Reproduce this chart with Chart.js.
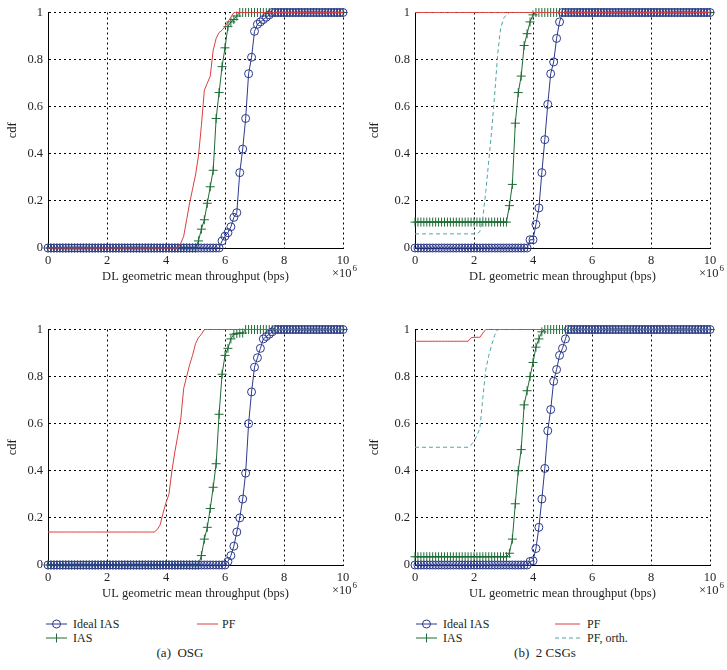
<!DOCTYPE html>
<html>
<head>
<meta charset="utf-8">
<script src="https://cdn.jsdelivr.net/npm/chart.js@4.4.0/dist/chart.umd.min.js"></script>
<style>
    body { margin: 0; background: #fff; }
    #wrap { position: relative; width: 727px; height: 670px; font-family: "Liberation Serif", "DejaVu Serif", serif; color: #231f20; }
    #wrap canvas { position: absolute; }
    .lg { position: absolute; font-size: 12px; line-height: 14px; white-space: nowrap; }
    .mk { position: absolute; }
    .cap { position: absolute; font-size: 13px; line-height: 14px; white-space: nowrap; transform: translateX(-50%); }
</style>
</head>
<body>
<div id="wrap">
    <canvas id="dlOsg" width="360" height="300" style="left:0;top:0"></canvas>
    <canvas id="dlCsg" width="360" height="300" style="left:367px;top:0"></canvas>
    <canvas id="ulOsg" width="360" height="300" style="left:0;top:317px"></canvas>
    <canvas id="ulCsg" width="360" height="300" style="left:367px;top:317px"></canvas>

    <!-- legends -->
    <svg class="mk" style="left:46px;top:619px" width="21" height="10"><line x1="0" y1="5" x2="21" y2="5" stroke="#2c3a8c"/><circle cx="10.5" cy="5" r="4" fill="none" stroke="#2c3a8c"/></svg>
    <div class="lg" style="left:73px;top:617px">Ideal IAS</div>
    <svg class="mk" style="left:46px;top:633px" width="21" height="10"><line x1="0" y1="5" x2="21" y2="5" stroke="#1f6b35"/><line x1="10.5" y1="0.5" x2="10.5" y2="9.5" stroke="#1f6b35"/></svg>
    <div class="lg" style="left:73px;top:631px">IAS</div>
    <svg class="mk" style="left:197px;top:619px" width="21" height="10"><line x1="0" y1="5" x2="21" y2="5" stroke="#d9403f"/></svg>
    <div class="lg" style="left:222px;top:617px">PF</div>
    <div class="cap" style="left:180px;top:646px">(a)&nbsp; OSG</div>

    <svg class="mk" style="left:416px;top:619px" width="21" height="10"><line x1="0" y1="5" x2="21" y2="5" stroke="#2c3a8c"/><circle cx="10.5" cy="5" r="4" fill="none" stroke="#2c3a8c"/></svg>
    <div class="lg" style="left:443px;top:617px">Ideal IAS</div>
    <svg class="mk" style="left:416px;top:633px" width="21" height="10"><line x1="0" y1="5" x2="21" y2="5" stroke="#1f6b35"/><line x1="10.5" y1="0.5" x2="10.5" y2="9.5" stroke="#1f6b35"/></svg>
    <div class="lg" style="left:443px;top:631px">IAS</div>
    <svg class="mk" style="left:555px;top:619px" width="25" height="10"><line x1="0" y1="5" x2="25" y2="5" stroke="#d9403f"/></svg>
    <div class="lg" style="left:587px;top:617px">PF</div>
    <svg class="mk" style="left:555px;top:633px" width="25" height="10"><line x1="0" y1="5" x2="25" y2="5" stroke="#4fa3a3" stroke-dasharray="4 3"/></svg>
    <div class="lg" style="left:587px;top:631px">PF, orth.</div>
    <div class="cap" style="left:545px;top:646px">(b)&nbsp; 2 CSGs</div>
</div>

<script>
// throughput grid (x 10^6 bps)
const xGrid = [
    0, 0.1, 0.2, 0.3, 0.4, 0.5, 0.6, 0.7, 0.8, 0.9,
    1, 1.1, 1.2, 1.3, 1.4, 1.5, 1.6, 1.7, 1.8, 1.9,
    2, 2.1, 2.2, 2.3, 2.4, 2.5, 2.6, 2.7, 2.8, 2.9,
    3, 3.1, 3.2, 3.3, 3.4, 3.5, 3.6, 3.7, 3.8, 3.9,
    4, 4.1, 4.2, 4.3, 4.4, 4.5, 4.6, 4.7, 4.8, 4.9,
    5, 5.1, 5.2, 5.3, 5.4, 5.5, 5.6, 5.7, 5.8, 5.9,
    6, 6.1, 6.2, 6.3, 6.4, 6.5, 6.6, 6.7, 6.8, 6.9,
    7, 7.1, 7.2, 7.3, 7.4, 7.5, 7.6, 7.7, 7.8, 7.9,
    8, 8.1, 8.2, 8.3, 8.4, 8.5, 8.6, 8.7, 8.8, 8.9,
    9, 9.1, 9.2, 9.3, 9.4, 9.5, 9.6, 9.7, 9.8, 9.9,
    10
];
const xTicks = ['0', '2', '4', '6', '8', '10'];
const yTicks = ['0', '0.2', '0.4', '0.6', '0.8', '1'];

// (a) OSG, downlink
const dlOsgIdeal = [
    0, 0, 0, 0, 0, 0, 0, 0, 0, 0,
    0, 0, 0, 0, 0, 0, 0, 0, 0, 0,
    0, 0, 0, 0, 0, 0, 0, 0, 0, 0,
    0, 0, 0, 0, 0, 0, 0, 0, 0, 0,
    0, 0, 0, 0, 0, 0, 0, 0, 0, 0,
    0, 0, 0, 0, 0, 0, 0, 0, 0, 0.03,
    0.05, 0.065, 0.09, 0.13, 0.15, 0.32, 0.42, 0.55, 0.74, 0.81,
    0.92, 0.95, 0.96, 0.97, 0.98, 0.99, 1, 1, 1, 1,
    1, 1, 1, 1, 1, 1, 1, 1, 1, 1,
    1, 1, 1, 1, 1, 1, 1, 1, 1, 1,
    1
];
const dlOsgIas = [
    0, 0, 0, 0, 0, 0, 0, 0, 0, 0,
    0, 0, 0, 0, 0, 0, 0, 0, 0, 0,
    0, 0, 0, 0, 0, 0, 0, 0, 0, 0,
    0, 0, 0, 0, 0, 0, 0, 0, 0, 0,
    0, 0, 0, 0, 0, 0, 0, 0, 0, 0,
    0, 0.03, 0.08, 0.12, 0.19, 0.26, 0.33, 0.55, 0.66, 0.77,
    0.85, 0.94, 0.96, 0.97, 0.985, 1, 1, 1, 1, 1,
    1, 1, 1, 1, 1, 1, 1, 1, 1, 1,
    1, 1, 1, 1, 1, 1, 1, 1, 1, 1,
    1, 1, 1, 1, 1, 1, 1, 1, 1, 1,
    1
];
const dlOsgPf = [
    0, 0, 0, 0, 0, 0, 0, 0, 0, 0,
    0, 0, 0, 0, 0, 0, 0, 0, 0, 0,
    0, 0, 0, 0, 0, 0, 0, 0, 0, 0,
    0, 0, 0, 0, 0, 0, 0, 0, 0, 0,
    0, 0, 0, 0, 0, 0.02, 0.05, 0.12, 0.19, 0.25,
    0.31, 0.39, 0.52, 0.67, 0.70, 0.73, 0.84, 0.89, 0.915, 0.925,
    0.94, 0.96, 0.98, 1, 1, 1, 1, 1, 1, 1,
    1, 1, 1, 1, 1, 1, 1, 1, 1, 1,
    1, 1, 1, 1, 1, 1, 1, 1, 1, 1,
    1, 1, 1, 1, 1, 1, 1, 1, 1, 1,
    1
];

// (b) 2 CSGs, downlink
const dlCsgIdeal = [
    0, 0, 0, 0, 0, 0, 0, 0, 0, 0,
    0, 0, 0, 0, 0, 0, 0, 0, 0, 0,
    0, 0, 0, 0, 0, 0, 0, 0, 0, 0,
    0, 0, 0, 0, 0, 0, 0, 0, 0, 0.035,
    0.035, 0.10, 0.17, 0.32, 0.46, 0.61, 0.74, 0.79, 0.89, 0.96,
    1, 1, 1, 1, 1, 1, 1, 1, 1, 1,
    1, 1, 1, 1, 1, 1, 1, 1, 1, 1,
    1, 1, 1, 1, 1, 1, 1, 1, 1, 1,
    1, 1, 1, 1, 1, 1, 1, 1, 1, 1,
    1, 1, 1, 1, 1, 1, 1, 1, 1, 1,
    1
];
const dlCsgIas = [
    0.11, 0.11, 0.11, 0.11, 0.11, 0.11, 0.11, 0.11, 0.11, 0.11,
    0.11, 0.11, 0.11, 0.11, 0.11, 0.11, 0.11, 0.11, 0.11, 0.11,
    0.11, 0.11, 0.11, 0.11, 0.11, 0.11, 0.11, 0.11, 0.11, 0.11,
    0.11, 0.11, 0.18, 0.27, 0.53, 0.66, 0.73, 0.86, 0.91, 0.96,
    0.99, 1, 1, 1, 1, 1, 1, 1, 1, 1,
    1, 1, 1, 1, 1, 1, 1, 1, 1, 1,
    1, 1, 1, 1, 1, 1, 1, 1, 1, 1,
    1, 1, 1, 1, 1, 1, 1, 1, 1, 1,
    1, 1, 1, 1, 1, 1, 1, 1, 1, 1,
    1, 1, 1, 1, 1, 1, 1, 1, 1, 1,
    1
];
const dlCsgPf = [
    1, 1, 1, 1, 1, 1, 1, 1, 1, 1,
    1, 1, 1, 1, 1, 1, 1, 1, 1, 1,
    1, 1, 1, 1, 1, 1, 1, 1, 1, 1,
    1, 1, 1, 1, 1, 1, 1, 1, 1, 1,
    1, 1, 1, 1, 1, 1, 1, 1, 1, 1,
    1, 1, 1, 1, 1, 1, 1, 1, 1, 1,
    1, 1, 1, 1, 1, 1, 1, 1, 1, 1,
    1, 1, 1, 1, 1, 1, 1, 1, 1, 1,
    1, 1, 1, 1, 1, 1, 1, 1, 1, 1,
    1, 1, 1, 1, 1, 1, 1, 1, 1, 1,
    1
];
const dlCsgPfOrth = [
    0.06, 0.06, 0.06, 0.06, 0.06, 0.06, 0.06, 0.06, 0.06, 0.06,
    0.06, 0.06, 0.06, 0.06, 0.06, 0.06, 0.06, 0.06, 0.06, 0.06,
    0.06, 0.06, 0.07, 0.13, 0.24, 0.37, 0.50, 0.65, 0.82, 0.93,
    0.975, 0.99, 1, 1, 1, 1, 1, 1, 1, 1,
    1, 1, 1, 1, 1, 1, 1, 1, 1, 1,
    1, 1, 1, 1, 1, 1, 1, 1, 1, 1,
    1, 1, 1, 1, 1, 1, 1, 1, 1, 1,
    1, 1, 1, 1, 1, 1, 1, 1, 1, 1,
    1, 1, 1, 1, 1, 1, 1, 1, 1, 1,
    1, 1, 1, 1, 1, 1, 1, 1, 1, 1,
    1
];

// (a) OSG, uplink
const ulOsgIdeal = [
    0, 0, 0, 0, 0, 0, 0, 0, 0, 0,
    0, 0, 0, 0, 0, 0, 0, 0, 0, 0,
    0, 0, 0, 0, 0, 0, 0, 0, 0, 0,
    0, 0, 0, 0, 0, 0, 0, 0, 0, 0,
    0, 0, 0, 0, 0, 0, 0, 0, 0, 0,
    0, 0, 0, 0, 0, 0, 0, 0, 0, 0,
    0, 0.015, 0.04, 0.08, 0.14, 0.2, 0.28, 0.39, 0.60, 0.735,
    0.84, 0.88, 0.92, 0.96, 0.97, 0.98, 0.99, 1, 1, 1,
    1, 1, 1, 1, 1, 1, 1, 1, 1, 1,
    1, 1, 1, 1, 1, 1, 1, 1, 1, 1,
    1
];
const ulOsgIas = [
    0, 0, 0, 0, 0, 0, 0, 0, 0, 0,
    0, 0, 0, 0, 0, 0, 0, 0, 0, 0,
    0, 0, 0, 0, 0, 0, 0, 0, 0, 0,
    0, 0, 0, 0, 0, 0, 0, 0, 0, 0,
    0, 0, 0, 0, 0, 0, 0, 0, 0, 0,
    0, 0, 0.04, 0.11, 0.16, 0.24, 0.33, 0.43, 0.64, 0.81,
    0.89, 0.92, 0.96, 0.98, 0.983, 0.985, 0.985, 1, 1, 1,
    1, 1, 1, 1, 1, 1, 1, 1, 1, 1,
    1, 1, 1, 1, 1, 1, 1, 1, 1, 1,
    1, 1, 1, 1, 1, 1, 1, 1, 1, 1,
    1
];
const ulOsgPf = [
    0.14, 0.14, 0.14, 0.14, 0.14, 0.14, 0.14, 0.14, 0.14, 0.14,
    0.14, 0.14, 0.14, 0.14, 0.14, 0.14, 0.14, 0.14, 0.14, 0.14,
    0.14, 0.14, 0.14, 0.14, 0.14, 0.14, 0.14, 0.14, 0.14, 0.14,
    0.14, 0.14, 0.14, 0.14, 0.14, 0.14, 0.14, 0.15, 0.17, 0.22,
    0.265, 0.30, 0.40, 0.48, 0.55, 0.62, 0.75, 0.80, 0.85, 0.89,
    0.94, 0.965, 0.98, 1, 1, 1, 1, 1, 1, 1,
    1, 1, 1, 1, 1, 1, 1, 1, 1, 1,
    1, 1, 1, 1, 1, 1, 1, 1, 1, 1,
    1, 1, 1, 1, 1, 1, 1, 1, 1, 1,
    1, 1, 1, 1, 1, 1, 1, 1, 1, 1,
    1
];

// (b) 2 CSGs, uplink
const ulCsgIdeal = [
    0, 0, 0, 0, 0, 0, 0, 0, 0, 0,
    0, 0, 0, 0, 0, 0, 0, 0, 0, 0,
    0, 0, 0, 0, 0, 0, 0, 0, 0, 0,
    0, 0, 0, 0, 0, 0, 0, 0, 0, 0.015,
    0.018, 0.07, 0.16, 0.28, 0.41, 0.57, 0.66, 0.78, 0.83, 0.89,
    0.92, 0.96, 1, 1, 1, 1, 1, 1, 1, 1,
    1, 1, 1, 1, 1, 1, 1, 1, 1, 1,
    1, 1, 1, 1, 1, 1, 1, 1, 1, 1,
    1, 1, 1, 1, 1, 1, 1, 1, 1, 1,
    1, 1, 1, 1, 1, 1, 1, 1, 1, 1,
    1
];
const ulCsgIas = [
    0.035, 0.035, 0.035, 0.035, 0.035, 0.035, 0.035, 0.035, 0.035, 0.035,
    0.035, 0.035, 0.035, 0.035, 0.035, 0.035, 0.035, 0.035, 0.035, 0.035,
    0.035, 0.035, 0.035, 0.035, 0.035, 0.035, 0.035, 0.035, 0.035, 0.035,
    0.035, 0.035, 0.05, 0.11, 0.26, 0.40, 0.49, 0.68, 0.74, 0.80,
    0.86, 0.925, 0.96, 0.99, 1, 1, 1, 1, 1, 1,
    1, 1, 1, 1, 1, 1, 1, 1, 1, 1,
    1, 1, 1, 1, 1, 1, 1, 1, 1, 1,
    1, 1, 1, 1, 1, 1, 1, 1, 1, 1,
    1, 1, 1, 1, 1, 1, 1, 1, 1, 1,
    1, 1, 1, 1, 1, 1, 1, 1, 1, 1,
    1
];
const ulCsgPf = [
    0.95, 0.95, 0.95, 0.95, 0.95, 0.95, 0.95, 0.95, 0.95, 0.95,
    0.95, 0.95, 0.95, 0.95, 0.95, 0.95, 0.95, 0.95, 0.95, 0.965,
    0.967, 0.967, 0.967, 0.985, 1, 1, 1, 1, 1, 1,
    1, 1, 1, 1, 1, 1, 1, 1, 1, 1,
    1, 1, 1, 1, 1, 1, 1, 1, 1, 1,
    1, 1, 1, 1, 1, 1, 1, 1, 1, 1,
    1, 1, 1, 1, 1, 1, 1, 1, 1, 1,
    1, 1, 1, 1, 1, 1, 1, 1, 1, 1,
    1, 1, 1, 1, 1, 1, 1, 1, 1, 1,
    1, 1, 1, 1, 1, 1, 1, 1, 1, 1,
    1
];
const ulCsgPfOrth = [
    0.5, 0.5, 0.5, 0.5, 0.5, 0.5, 0.5, 0.5, 0.5, 0.5,
    0.5, 0.5, 0.5, 0.5, 0.5, 0.5, 0.5, 0.5, 0.5, 0.51,
    0.525, 0.55, 0.58, 0.71, 0.83, 0.89, 0.935, 0.975, 1, 1,
    1, 1, 1, 1, 1, 1, 1, 1, 1, 1,
    1, 1, 1, 1, 1, 1, 1, 1, 1, 1,
    1, 1, 1, 1, 1, 1, 1, 1, 1, 1,
    1, 1, 1, 1, 1, 1, 1, 1, 1, 1,
    1, 1, 1, 1, 1, 1, 1, 1, 1, 1,
    1, 1, 1, 1, 1, 1, 1, 1, 1, 1,
    1, 1, 1, 1, 1, 1, 1, 1, 1, 1,
    1
];

const BLUE = '#2c3a8c';
const GREEN = '#1f6b35';
const RED = '#d9403f';
const CYAN = '#4fa3a3';
const FONT = '"Liberation Serif", "DejaVu Serif", serif';
const TXT = '#231f20';

const pts = vals => vals.map((v, i) => ({ x: xGrid[i], y: v }));

function idealDs(vals) {
    return {
        label: 'Ideal IAS', data: pts(vals), borderColor: BLUE, borderWidth: 1,
        pointStyle: 'circle', pointRadius: 4, pointBorderWidth: 1,
        pointBorderColor: BLUE, pointBackgroundColor: 'rgba(0,0,0,0)'
    };
}
function iasDs(vals) {
    return {
        label: 'IAS', data: pts(vals), borderColor: GREEN, borderWidth: 1,
        pointStyle: 'cross', pointRadius: 4.5, pointBorderWidth: 1,
        pointBorderColor: GREEN, pointBackgroundColor: GREEN
    };
}
function pfDs(vals) {
    return { label: 'PF', data: pts(vals), borderColor: RED, borderWidth: 1, pointRadius: 0 };
}
function pfOrthDs(vals) {
    return { label: 'PF, orth.', data: pts(vals), borderColor: CYAN, borderWidth: 1, borderDash: [4, 3], pointRadius: 0 };
}

// axis titles and the x10^6 exponent
const axisText = {
    id: 'axisText',
    afterDraw(chart, args, opts) {
        const { ctx, chartArea: a } = chart;
        ctx.save();
        ctx.fillStyle = TXT;
        ctx.font = '12.5px ' + FONT;
        ctx.textAlign = 'center';
        ctx.textBaseline = 'middle';
        ctx.fillText(opts.xTitle, (a.left + a.right) / 2, a.bottom + 29);

        ctx.textAlign = 'left';
        ctx.fillText('\u00d710', a.right - 11, a.bottom + 26);
        const w = ctx.measureText('\u00d710').width;
        ctx.font = '9px ' + FONT;
        ctx.fillText('6', a.right - 10 + w, a.bottom + 21);

        ctx.font = '12.5px ' + FONT;
        ctx.translate(a.left - opts.cdfOffset, (a.top + a.bottom) / 2);
        ctx.rotate(-Math.PI / 2);
        ctx.textAlign = 'center';
        ctx.fillText('cdf', 0, 0);
        ctx.restore();
    }
};

function makeChart(id, datasets, xTitle, cdfOffset) {
    new Chart(document.getElementById(id), {
        type: 'line',
        data: { datasets: datasets },
        options: {
            responsive: false,
            animation: false,
            devicePixelRatio: 1,
            layout: { padding: { left: 0, right: 17, top: 7, bottom: 0 } },
            datasets: { line: { tension: 0, clip: false } },
            plugins: {
                legend: { display: false },
                tooltip: { enabled: false },
                axisText: { xTitle: xTitle, cdfOffset: cdfOffset }
            },
            scales: {
                x: {
                    type: 'linear', min: 0, max: 10,
                    afterFit: s => { s.height = 52; },
                    ticks: {
                        stepSize: 2, padding: 5, maxRotation: 0, color: TXT,
                        font: { family: FONT, size: 12.5 },
                        callback: (v, i) => xTicks[i]
                    },
                    grid: { color: '#000', lineWidth: 1, drawTicks: false },
                    border: { display: true, color: '#000', width: 1, dash: [2, 3] }
                },
                y: {
                    min: 0, max: 1,
                    afterFit: s => { s.width = 48; },
                    ticks: {
                        stepSize: 0.2, padding: 5, color: TXT,
                        font: { family: FONT, size: 12.5 },
                        callback: (v, i) => yTicks[i]
                    },
                    grid: { color: '#000', lineWidth: 1, drawTicks: false },
                    border: { display: true, color: '#000', width: 1, dash: [2, 3] }
                }
            }
        },
        plugins: [axisText]
    });
}

makeChart('dlOsg', [pfDs(dlOsgPf), idealDs(dlOsgIdeal), iasDs(dlOsgIas)],
    'DL geometric mean throughput (bps)', 35);
makeChart('dlCsg', [pfDs(dlCsgPf), pfOrthDs(dlCsgPfOrth), idealDs(dlCsgIdeal), iasDs(dlCsgIas)],
    'DL geometric mean throughput (bps)', 40);
makeChart('ulOsg', [pfDs(ulOsgPf), idealDs(ulOsgIdeal), iasDs(ulOsgIas)],
    'UL geometric mean throughput (bps)', 35);
makeChart('ulCsg', [pfDs(ulCsgPf), pfOrthDs(ulCsgPfOrth), idealDs(ulCsgIdeal), iasDs(ulCsgIas)],
    'UL geometric mean throughput (bps)', 40);
</script>
</body>
</html>
